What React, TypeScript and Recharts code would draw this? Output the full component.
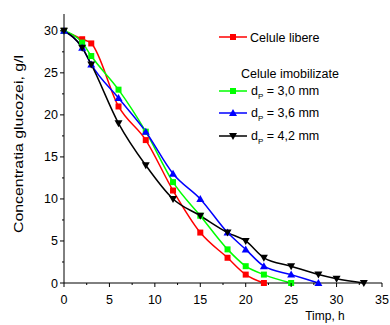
import { LineChart, Line, XAxis, YAxis } from "recharts";

// time (h) and glucose concentration (g/l)
const timeLibere = [0, 2, 3, 6, 9, 12, 15, 18, 20, 22];
const libere = [30, 29, 28.5, 21, 17, 11, 6, 3, 1, 0];

const timeD30 = [0, 2, 3, 6, 9, 12, 15, 18, 20, 22, 25];
const d30 = [30, 28.6, 27, 23, 18, 12, 8, 4, 2, 1, 0];

const timeD36 = [0, 2, 3, 6, 9, 12, 15, 18, 20, 22, 25, 28];
const d36 = [30, 28, 26, 22, 18, 13, 10, 6, 4, 2, 1, 0];

const timeD42 = [0, 2, 3, 6, 9, 12, 15, 18, 20, 22, 25, 28, 30, 33];
const d42 = [30, 28, 26, 19, 14, 10, 8, 6, 5, 3, 2, 1, 0.5, 0];

const xTicks = [0, 2.5, 5, 7.5, 10, 12.5, 15, 17.5, 20, 22.5, 25, 27.5, 30, 32.5, 35];
const yTicks = [0, 2.5, 5, 7.5, 10, 12.5, 15, 17.5, 20, 22.5, 25, 27.5, 30];

const FONT = "'Liberation Sans', Arial, sans-serif";

const toPoints = (xs: number[], ys: number[]) => xs.map((x, i) => ({ x, y: ys[i] }));

type Shape = "square" | "up" | "down";

function Marker({ cx, cy, shape, color }: { cx: number; cy: number; shape: Shape; color: string }) {
  if (shape === "square") {
    return <rect x={cx - 3} y={cy - 3} width={6} height={6} fill={color} />;
  }
  if (shape === "up") {
    return <polygon points={`${cx},${cy - 4} ${cx - 4},${cy + 3} ${cx + 4},${cy + 3}`} fill={color} />;
  }
  return <polygon points={`${cx},${cy + 4} ${cx - 4},${cy - 3} ${cx + 4},${cy - 3}`} fill={color} />;
}

const makeDot = (shape: Shape, color: string) => (props: any) => {
  if (props.cx == null || props.cy == null) return <g key={props.index} />;
  return (
    <g key={props.index}>
      <Marker cx={props.cx} cy={props.cy} shape={shape} color={color} />
    </g>
  );
};

const XTick = (props: any) => {
  const { x, y, payload } = props;
  const major = payload.value % 5 === 0;
  return (
    <g>
      <line x1={x} y1={y} x2={x} y2={y + (major ? 4 : 2)} stroke="#000" />
      {major && (
        <text x={x} y={y + 21} textAnchor="middle" fontSize={12.5} fontFamily={FONT} fill="#000">
          {payload.value}
        </text>
      )}
    </g>
  );
};

const YTick = (props: any) => {
  const { x, y, payload } = props;
  const major = payload.value % 5 === 0;
  return (
    <g>
      <line x1={x - (major ? 4 : 2)} y1={y} x2={x} y2={y} stroke="#000" />
      {major && (
        <text x={x - 6} y={y + 4.5} textAnchor="end" fontSize={12.5} fontFamily={FONT} fill="#000">
          {payload.value}
        </text>
      )}
    </g>
  );
};

function LegendRow({ y, color, shape, label }: { y: number; color: string; shape: Shape; label: string }) {
  return (
    <g>
      <line x1={219} y1={y} x2={247} y2={y} stroke={color} strokeWidth={1.5} />
      <Marker cx={233} cy={y} shape={shape} color={color} />
      <text x={251} y={y + 4} fontSize={12.5} fontFamily={FONT} fill="#000">
        d<tspan dy={4} fontSize={8}>P</tspan>
        <tspan dy={-4}> = {label}</tspan>
      </text>
    </g>
  );
}

export default function App() {
  return (
    <div style={{ position: "absolute", left: 0, top: 0, width: 390, height: 325, background: "#fff" }}>
      <LineChart width={390} height={325} margin={{ top: 14, right: 8, left: 0, bottom: 0 }}>
        <XAxis
          dataKey="x"
          type="number"
          domain={[0, 35]}
          ticks={xTicks}
          interval={0}
          tick={<XTick />}
          tickSize={0}
          tickMargin={0}
          tickLine={false}
          axisLine={{ stroke: "#000" }}
          height={42}
          allowDuplicatedCategory={false}
        />
        <YAxis
          type="number"
          domain={[0, 32]}
          ticks={yTicks}
          interval={0}
          tick={<YTick />}
          tickSize={0}
          tickMargin={0}
          tickLine={false}
          axisLine={{ stroke: "#000" }}
          width={64}
        />
        <Line
          data={toPoints(timeLibere, libere)}
          dataKey="y"
          type="monotone"
          stroke="#ff0000"
          strokeWidth={1.5}
          dot={makeDot("square", "#ff0000")}
          isAnimationActive={false}
        />
        <Line
          data={toPoints(timeD30, d30)}
          dataKey="y"
          type="monotone"
          stroke="#00ff00"
          strokeWidth={1.5}
          dot={makeDot("square", "#00ff00")}
          isAnimationActive={false}
        />
        <Line
          data={toPoints(timeD36, d36)}
          dataKey="y"
          type="monotone"
          stroke="#0000ff"
          strokeWidth={1.5}
          dot={makeDot("up", "#0000ff")}
          isAnimationActive={false}
        />
        <Line
          data={toPoints(timeD42, d42)}
          dataKey="y"
          type="monotone"
          stroke="#000000"
          strokeWidth={1.5}
          dot={makeDot("down", "#000000")}
          isAnimationActive={false}
        />
      </LineChart>
      <svg width={390} height={325} style={{ position: "absolute", left: 0, top: 0, pointerEvents: "none" }}>
        <line x1={219} y1={37} x2={247} y2={37} stroke="#ff0000" strokeWidth={1.5} />
        <Marker cx={233} cy={37} shape="square" color="#ff0000" />
        <text x={250} y={41.5} fontSize={12.5} fontFamily={FONT} fill="#000">
          Celule libere
        </text>
        <text x={241} y={78} fontSize={12.5} fontFamily={FONT} fill="#000">
          Celule imobilizate
        </text>
        <LegendRow y={91} color="#00ff00" shape="square" label="3,0 mm" />
        <LegendRow y={113} color="#0000ff" shape="up" label="3,6 mm" />
        <LegendRow y={136} color="#000000" shape="down" label="4,2 mm" />
        <text
          transform="translate(23,144) rotate(-90)"
          textAnchor="middle"
          fontSize={13}
          fontFamily={FONT}
          fill="#000"
          textLength={178}
          lengthAdjust="spacingAndGlyphs"
        >
          Concentratia glucozei, g/l
        </text>
        <text x={325} y={320} textAnchor="middle" fontSize={12} fontFamily={FONT} fill="#000">
          Timp, h
        </text>
      </svg>
    </div>
  );
}
